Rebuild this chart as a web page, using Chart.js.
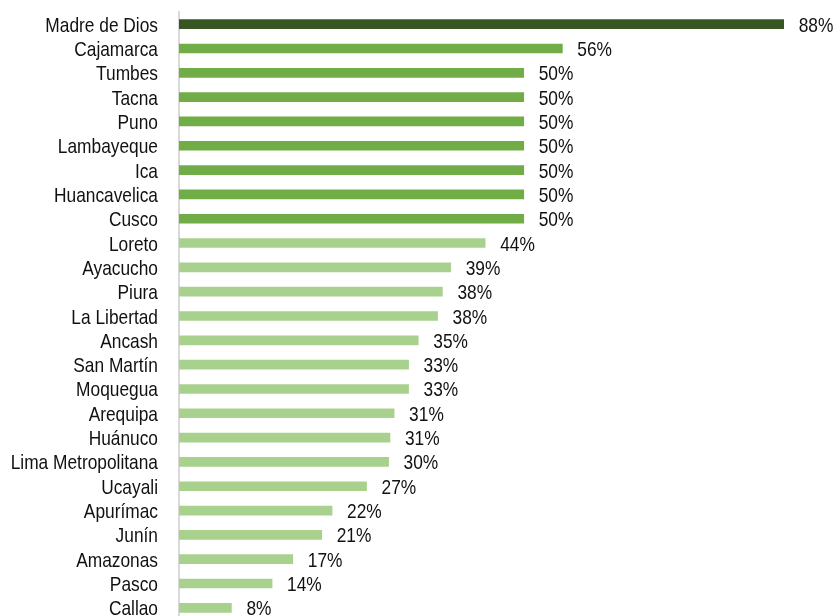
<!DOCTYPE html>
<html>
<head>
<meta charset="utf-8">
<script src="https://cdn.jsdelivr.net/npm/chart.js@4"></script>
<style>
  html, body { margin: 0; padding: 0; background: #fff; overflow: hidden; }
  #wrap { width: 837px; height: 624px; position: relative; }
</style>
</head>
<body>
<div id="wrap"><canvas id="barChart"></canvas></div>
<script>
const regions = ['Madre de Dios', 'Cajamarca', 'Tumbes', 'Tacna', 'Puno', 'Lambayeque', 'Ica',
  'Huancavelica', 'Cusco', 'Loreto', 'Ayacucho', 'Piura', 'La Libertad', 'Ancash', 'San Martín',
  'Moquegua', 'Arequipa', 'Huánuco', 'Lima Metropolitana', 'Ucayali', 'Apurímac', 'Junín',
  'Amazonas', 'Pasco', 'Callao'];
const percent = [87.7, 55.6, 50, 50, 50, 50, 50, 50, 50, 44.4, 39.4, 38.2, 37.5, 34.7, 33.3,
  33.3, 31.2, 30.6, 30.4, 27.2, 22.2, 20.7, 16.5, 13.5, 7.6];

// color por grupo: el primero oscuro, luego los >= 50, el resto claro
const barColors = percent.map((v, i) => i === 0 ? '#375623' : (v >= 50 ? '#70AD47' : '#A9D18E'));

// no hay Arial Narrow: se usa Liberation Sans comprimida en horizontal
const FONT = '21px "Liberation Sans", Arial, sans-serif';
const NARROW = 0.825;

function narrowText(ctx, text, x, y, align) {
  ctx.save();
  ctx.translate(x, y);
  ctx.scale(NARROW, 1);
  ctx.textAlign = align;
  ctx.fillText(text, 0, 0);
  ctx.restore();
}

// nombres de regiones y etiquetas de valor
const textLabels = {
  id: 'textLabels',
  afterDatasetsDraw(chart) {
    const { ctx, chartArea } = chart;
    const yScale = chart.scales.y;
    const meta = chart.getDatasetMeta(0);
    ctx.save();
    ctx.font = FONT;
    ctx.fillStyle = '#111';
    ctx.textBaseline = 'alphabetic';
    regions.forEach((name, i) => {
      narrowText(ctx, name, chartArea.left - 21, yScale.getPixelForTick(i) + 7.5, 'right');
    });
    meta.data.forEach((bar, i) => {
      narrowText(ctx, Math.round(percent[i]) + '%', bar.x + 15, bar.y + 7.5, 'left');
    });
    ctx.restore();
  }
};

new Chart(document.getElementById('barChart').getContext('2d'), {
  type: 'bar',
  data: {
    labels: regions,
    datasets: [{
      data: percent,
      backgroundColor: barColors,
      barThickness: 9
    }]
  },
  options: {
    indexAxis: 'y',
    responsive: true,
    maintainAspectRatio: false,
    animation: false,
    layout: { padding: { top: 12, right: 3, bottom: 4, left: 0 } },
    plugins: {
      legend: { display: false },
      tooltip: { enabled: false }
    },
    scales: {
      x: {
        display: false,
        min: 0,
        max: 95
      },
      y: {
        afterFit: (scale) => { scale.width = 179; },
        grid: { display: true, drawOnChartArea: false, drawTicks: false },
        border: { display: true, color: '#d9d9d9', width: 2 },
        ticks: { display: false }
      }
    }
  },
  plugins: [textLabels]
});
</script>
</body>
</html>
